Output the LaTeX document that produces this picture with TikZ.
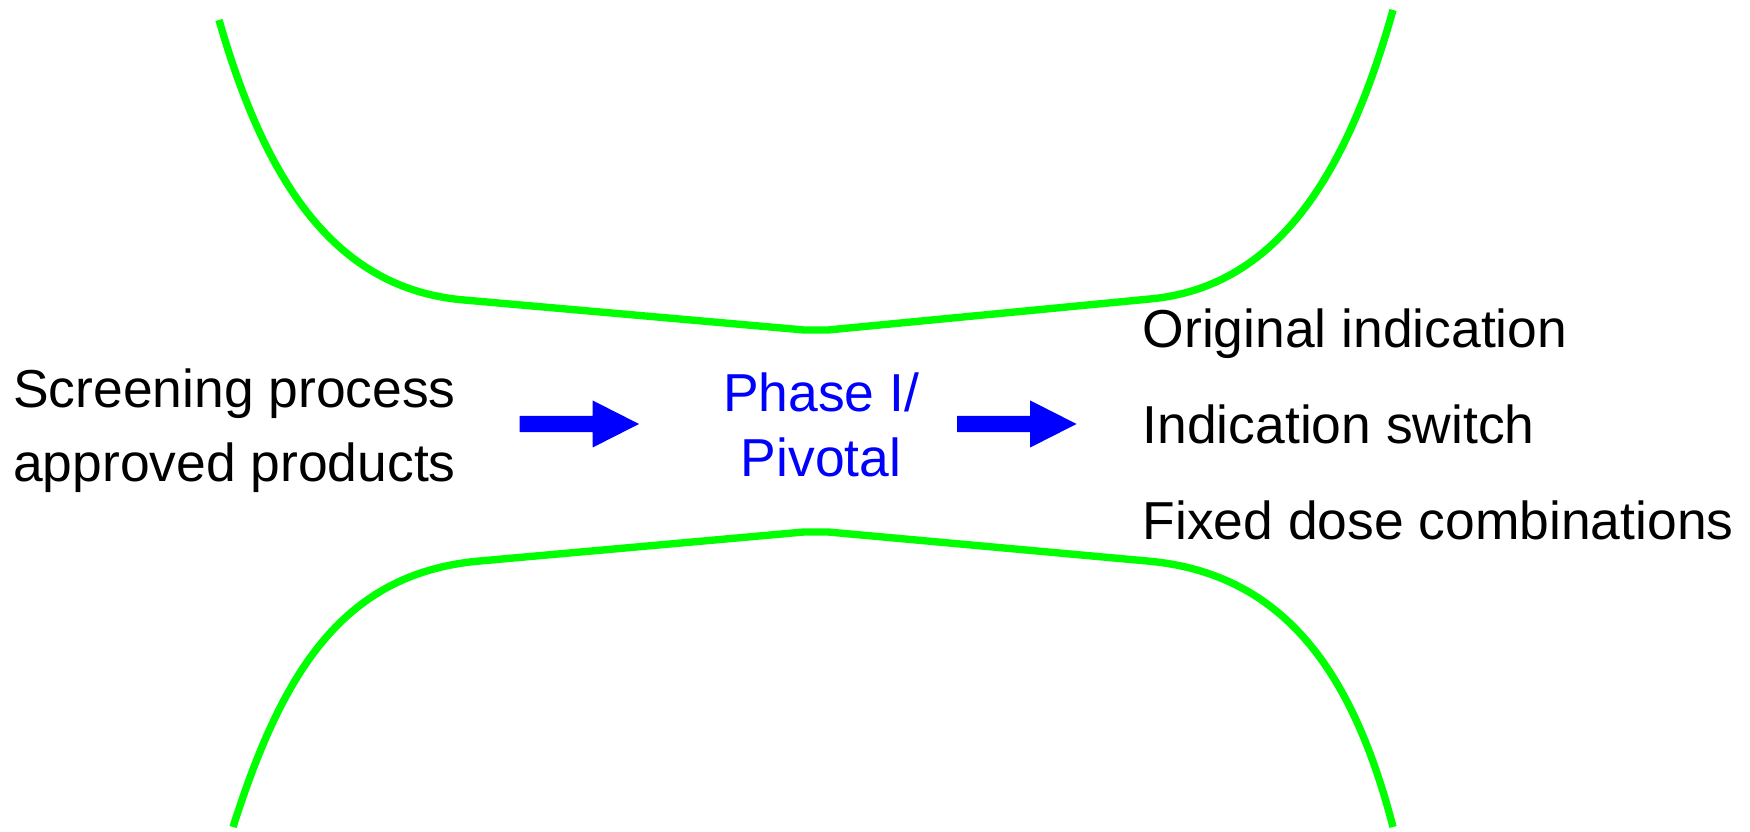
\documentclass[tikz,border=0pt]{standalone}
\usepackage{fontspec}
\setmainfont{Liberation Sans}
\usepackage{xcolor}
\usepackage{tikz}
\usetikzlibrary{positioning}

\tikzset{
	funnel/.style={draw=green,line width=2.1pt,line cap=butt,line join=round},
	txt/.style={inner sep=0pt,font=\fontsize{15.2}{18}\selectfont},
	phasetxt/.style={txt,text=blue},
	blockarrow/.pic={
		\fill[blue] (0,-0.082) -- (0.732,-0.082) -- (0.732,-0.235) -- (1.195,0)
			-- (0.732,0.235) -- (0.732,0.082) -- (0,0.082) -- cycle;
	}
}

\begin{document}
\begin{tikzpicture}[line cap=round,line join=round,x=1.0cm,y=1.0cm]
	\useasboundingbox (0,0) rectangle (17.5,8.32);
	\draw[funnel] (2.19,8.12) .. controls (2.65,6.52) and (3.34,5.43) .. (4.64,5.32)
		-- (8.04,5.02) -- (8.28,5.02) -- (11.50,5.33)
		.. controls (12.80,5.45) and (13.48,6.62) .. (13.93,8.22);
	\draw[funnel] (2.33,0.05) .. controls (2.81,1.55) and (3.40,2.59) .. (4.80,2.71)
		-- (8.04,3.00) -- (8.28,3.00) -- (11.47,2.71)
		.. controls (12.87,2.59) and (13.54,1.55) .. (13.93,0.05);
	\node[txt,anchor=base west] (screen) at (0.125,4.24) {Screening process};
	\node[txt,anchor=base west] (approved) at (0.125,3.50) {approved products};
	\pic at (5.195,4.08) {blockarrow};
	\node[phasetxt,anchor=base] (phase) at (8.21,4.20) {Phase I/};
	\node[phasetxt,anchor=base] (pivotal) at (8.21,3.55) {Pivotal};
	\pic at (9.57,4.08) {blockarrow};
	\node[txt,anchor=base west] (orig) at (11.42,4.84) {Original indication};
	\node[txt,anchor=base west] (switch) at (11.42,3.88) {Indication switch};
	\node[txt,anchor=base west] (fixed) at (11.42,2.92) {Fixed dose combinations};
\end{tikzpicture}
\end{document}
